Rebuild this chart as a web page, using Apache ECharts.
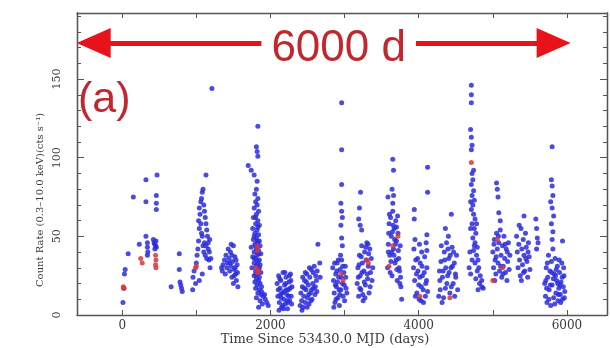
<!DOCTYPE html>
<html>
<head>
<meta charset="utf-8">
<script src="https://cdn.jsdelivr.net/npm/echarts@6/dist/echarts.min.js"></script>
<style>html,body{margin:0;padding:0;background:#fff}#c{width:610px;height:348px}</style>
</head>
<body>
<div id="c"></div>
<script>
// ---- data ----
const xTickLabels = [0, 2000, 4000, 6000];
const xTicks = [0, 1000, 2000, 3000, 4000, 5000, 6000];
const yTickLabels = [0, 50, 100, 150];
const yMinorTicks = [0,10,20,30,40,50,60,70,80,90,100,110,120,130,140,150,160,170,180,190];
const xRange = [-610, 6540];
const yRange = [0, 192];
const arrowSpan = [-385, 5820];   // centres of the two arrow heads
const arrowLevel = 173;
const arrowTextPos = [2920, 169];
const arrowText = '6000 d';
const panelText = '(a)';
const xTitle = 'Time Since 53430.0 MJD (days)';
const yTitle = 'Count Rate (0.3\u201310.0 keV)(cts s\u207B\u00B9)';

const blueEarly = [[10,8],[20,17],[30,26],[40,29],[80,39],[150,75],
 [230,45],[320,86],[320,72],[320,50],[340,46],[340,43],[345,40],[340,38],
 [420,48],[430,46],[440,45],[450,44],[460,43],[440,42],[470,89],[460,76],[460,71],[460,67],[455,47],
 [660,18],[770,39],[770,29],[780,21],[790,19],[800,17],[810,15]];
const blueE = [[950,16],[955,24],[970,28],[990,20],[1000,33],[1010,38],[1020,42],[1030,47],[1040,55],[1030,60],[1050,64],[1040,68],[1060,72],[1070,74],[1080,78],[1090,80],[1100,70],[1110,66],[1120,62],[1130,89],[1130,58],[1140,54],[1150,50],[1160,46],[1080,50],[1090,44],[1100,40],[1120,38],[1140,36],[1160,42],[1180,48],[1170,35],[1185,30],[1210,144],[1060,58],[1070,52],[1110,46],[1130,44],[1175,40],[1195,36],[1080,26],[1040,22]];
const blueF = [[1340,30],[1350,28],[1360,32],[1380,35],[1390,26],[1400,38],[1410,30],[1420,33],[1430,42],[1440,36],[1450,28],[1460,40],[1470,31],[1480,24],[1490,34],[1500,20],[1510,29],[1520,37],[1530,26],[1540,22],[1550,32],[1560,18],[1470,45],[1500,44],[1525,30],[1535,35],[1480,38],[1450,33],[1510,25],[1555,27]];
const blueG = [[1830,120],[1810,107],[1820,104],[1830,101],[1700,95],[1740,92],[1780,89],[1820,85],[1810,80],[1790,77],[1830,74],[1800,72],[1820,70],[1780,68],[1840,66],[1810,64],[1770,62],[1830,60],[1800,58],[1850,57],[1760,55],[1820,54],[1790,52],[1840,51],[1810,49],[1770,48],[1850,47],[1830,46],[1790,45],[1860,44],[1740,43],[1810,42],[1840,41],[1780,40],[1870,39],[1820,38],[1760,37],[1800,36],[1850,35],[1830,34],[1780,33],[1860,32],[1810,31],[1750,30],[1840,29],[1800,28],[1870,27],[1820,26],[1780,25],[1850,24],[1810,23],[1840,22],[1790,21],[1860,20],[1820,19],[1880,18],[1800,17],[1850,16],[1830,14],[1870,13],[1900,12],[1810,11],[1930,10],[1860,9],[1950,8],[1970,6],[1840,5],[1890,7],[1920,13],[1880,15],[1800,62],[1830,56],[1780,50],[1820,47],[1800,44],[1840,39],[1780,36],[1820,32],[1850,30],[1800,26]];
const blueH = [[2090,20],[2100,12],[2110,25],[2120,8],[2130,17],[2140,22],[2150,5],[2160,14],[2170,27],[2180,10],[2190,19],[2200,7],[2210,24],[2220,13],[2230,4],[2240,16],[2250,21],[2260,9],[2270,26],[2280,12],[2290,18],[2105,16],[2125,23],[2145,11],[2165,6],[2185,15],[2205,20],[2225,9],[2245,12],[2265,17],[2285,7],[2115,3],[2175,4],[2235,8],[2255,25],[2195,27],[2135,13],[2215,16],[2275,22]];
const blueI = [[2400,6],[2410,14],[2420,9],[2430,18],[2440,5],[2450,12],[2460,22],[2470,8],[2480,16],[2490,26],[2500,11],[2510,19],[2520,7],[2530,24],[2540,14],[2550,29],[2560,10],[2570,20],[2580,17],[2590,31],[2600,13],[2610,25],[2620,22],[2640,45],[2630,28],[2425,3],[2455,17],[2485,21],[2515,13],[2545,9],[2575,27],[2605,18],[2625,15],[2665,33],[2670,24],[2435,24],[2495,5],[2525,30],[2555,16],[2470,27]];
const blueJ = [[2960,135],[2960,105],[2960,83],[2950,71],[2960,66],[2970,62],[2950,57],[2960,49],[2970,44],
 [2840,30],[2850,22],[2860,14],[2870,8],[2880,26],[2890,18],[2900,33],[2910,11],[2920,24],[2930,6],[2940,29],[2950,16],[2960,35],[2970,20],[2980,12],[2990,27],[3000,9],[3010,31],[3020,17],[3030,14],[2855,5],[2875,19],[2895,28],[2915,35],[2935,13],[2955,24],[2975,31],[2995,19],[3015,24],[2865,33],[2885,10],[2905,21],[2925,16],[2945,38]];
const blueK = [[3215,78],[3200,68],[3190,61],[3210,57],[3230,54],
 [3170,20],[3180,30],[3190,12],[3200,38],[3210,25],[3220,16],[3230,44],[3240,33],[3250,9],[3260,28],[3270,40],[3280,19],[3290,35],[3300,46],[3310,23],[3320,31],[3330,14],[3340,42],[3350,27],[3360,36],[3370,22],[3380,30],[3185,24],[3205,17],[3225,37],[3245,13],[3265,21],[3285,43],[3305,26],[3325,39],[3345,18],[3195,32],[3235,27],[3275,11],[3315,45]];
const blueL = [[3650,99],[3660,92],[3640,80],[3660,76],[3650,71],[3585,75],
 [3580,30],[3590,45],[3600,58],[3610,38],[3620,62],[3630,50],[3640,25],[3650,66],[3660,42],[3670,55],[3680,33],[3690,60],[3700,47],[3710,22],[3720,52],[3730,36],[3740,28],[3750,44],[3760,18],[3770,10],[3595,52],[3615,27],[3635,40],[3655,57],[3675,48],[3695,35],[3715,63],[3735,30],[3755,24],[3605,64],[3625,34],[3645,53],[3665,38],[3685,45],[3705,29],[3725,41],[3745,20],[3590,40],[3700,56]];
const blueM = [[3940,67],[3940,61],[4120,94],[4120,78],[4110,51],[4100,46],[4110,41],
 [3930,30],[3945,22],[3960,35],[3975,14],[3990,28],[4005,10],[4020,33],[4035,18],[4050,25],[4065,8],[4080,37],[4095,20],[4110,30],[4120,15],[3955,12],[3970,26],[3985,36],[4000,19],[4015,24],[4030,9],[4045,31],[4060,16],[4075,27],[4090,12],[4105,22],[3935,42],[3950,48],[4010,45],[4040,40]];
const blueN = [[4440,64],[4360,55],[4400,50],
 [4270,12],[4285,22],[4300,34],[4315,8],[4330,28],[4345,40],[4360,17],[4375,46],[4390,25],[4405,36],[4420,14],[4435,30],[4450,43],[4465,20],[4480,33],[4495,26],[4510,38],[4525,16],[4290,16],[4305,44],[4320,24],[4335,11],[4350,35],[4365,30],[4380,20],[4395,42],[4410,27],[4425,38],[4440,18],[4455,31],[4470,40],[4485,12],[4500,24],[4280,28]];
const blueO = [[4710,146],[4710,140],[4710,135],[4700,118],[4710,113],[4720,108],[4710,105],
 [4720,90],[4730,86],[4710,83],[4740,79],[4720,76],[4750,73],[4730,70],[4710,67],[4740,64],[4760,61],[4720,58],[4750,55],[4770,52],[4730,49],[4760,46],[4790,43],[4740,41],[4780,38],[4800,35],[4760,33],[4810,30],[4790,28],[4830,25],[4770,23],[4820,20],[4850,18],[4800,16],[4700,26],[4690,40],[4700,55],[4680,30],[4720,35],[4850,22],[4870,17],[4750,44],[4780,58],[4700,72],[4740,92]];
const blueP = [[5050,84],[5060,80],[5070,75],[5080,65],[5100,60],
 [5000,40],[5010,30],[5020,48],[5030,35],[5040,26],[5050,52],[5060,42],[5070,33],[5080,46],[5090,28],[5100,54],[5110,38],[5120,24],[5130,44],[5140,31],[5150,50],[5160,36],[5170,27],[5180,42],[5190,22],[5200,34],[5210,46],[5220,29],[5230,38],[5015,45],[5045,37],[5075,50],[5105,31],[5135,26],[5165,45],[5195,40],[5025,22]];
const blueQ = [[5420,63],
 [5320,50],[5330,40],[5340,30],[5350,45],[5360,35],[5370,25],[5380,55],[5390,42],[5400,32],[5410,48],[5420,38],[5430,28],[5440,52],[5450,43],[5460,34],[5470,24],[5480,46],[5490,37],[5500,29],[5355,57],[5385,22],[5415,27],[5445,36],[5475,40],
 [5580,61],[5590,55],[5600,49],[5590,42],[5610,46]];
const blueS = [[5800,107],[5790,86],[5800,82],[5810,76],[5780,72],[5800,68],[5820,63],[5790,58],[5810,53],[5800,48],[5940,47],
 [5700,20],[5710,12],[5720,30],[5730,8],[5740,24],[5750,38],[5760,16],[5770,28],[5780,6],[5790,34],[5800,19],[5810,42],[5820,11],[5830,26],[5840,36],[5850,14],[5860,22],[5870,31],[5880,9],[5890,17],[5900,27],[5910,13],[5920,21],[5930,33],[5940,10],[5950,18],[5960,25],[5970,15],[5715,22],[5735,33],[5755,10],[5775,19],[5795,27],[5815,23],[5835,7],[5855,29],[5875,20],[5895,35],[5915,8],[5935,24],[5955,30],[5965,11],[5725,17],[5845,25],[5905,19],[5885,13]];
const redPoints = [[15,18],[25,17],[250,36],[270,33],[450,38],[455,35],[450,32],[455,30],[990,30],[1000,31],
 [1820,44],[1830,41],[1810,30],[1840,28],[1820,27],[2950,26],[2980,22],[3320,33],[3300,35],
 [3720,50],[3600,31],[3650,44],[4015,12],[4420,11],[4710,97],[5000,22],[5130,30],[5060,48]];

const bluePoints = [].concat(blueEarly, blueE, blueF, blueG, blueH, blueI, blueJ, blueK, blueL, blueM, blueN, blueO, blueP, blueQ, blueS);

// ---- chart ----
const chart = echarts.init(document.getElementById('c'), null, {renderer: 'canvas'});
const serif = 'DejaVu Serif';
const lineCol = '#555';
function xAx(pos, labels, len) {
  return {type: 'value', position: pos, min: xRange[0], max: xRange[1],
    axisLine: {show: true, onZero: false, lineStyle: {color: lineCol, width: 1.3}},
    axisTick: {show: true, inside: true, length: len, customValues: xTicks, lineStyle: {color: lineCol}},
    axisLabel: labels ? {show: true, customValues: xTickLabels, formatter: v => String(v), fontFamily: serif, fontSize: 12, color: '#3a3a3a', margin: 5} : {show: false},
    splitLine: {show: false}};
}
function yAx(pos, ticks, len, labels) {
  return {type: 'value', position: pos, min: yRange[0], max: yRange[1],
    axisLine: {show: true, onZero: false, lineStyle: {color: lineCol, width: 1.3}},
    axisTick: {show: true, inside: true, length: len, customValues: ticks, lineStyle: {color: lineCol}},
    axisLabel: labels ? {show: true, customValues: yTickLabels, formatter: v => String(v), rotate: 90, fontFamily: serif, fontSize: 11, color: '#3a3a3a', margin: 14} : {show: false},
    splitLine: {show: false}};
}
chart.setOption({
  animation: false,
  backgroundColor: '#fff',
  grid: {left: 77, right: 3, top: 13, bottom: 33},
  xAxis: [xAx('bottom', true, 5), xAx('top', false, 5)],
  yAxis: [yAx('left', yTickLabels, 7, true), yAx('left', yMinorTicks, 4, false), yAx('right', yTickLabels, 7, false), yAx('right', yMinorTicks, 4, false)],
  graphic: [
    {type: 'text', left: 78, top: 79, z: 100, style: {text: panelText, font: '43px "Liberation Sans"', fill: '#c1272d'}},
    {type: 'text', x: 40, y: 200, rotation: Math.PI / 2, style: {text: yTitle, font: '10px "DejaVu Serif"', fill: '#3a3a3a', align: 'center', verticalAlign: 'middle'}},
    {type: 'text', x: 325, y: 340, style: {text: xTitle, font: '13px "DejaVu Serif"', fill: '#3a3a3a', align: 'center', verticalAlign: 'middle'}}
  ],
  series: [
    {type: 'scatter', data: bluePoints, symbolSize: 5, itemStyle: {color: '#2b2bdc', opacity: 0.85}, silent: true,
     markLine: {silent: true, symbol: ['triangle', 'triangle'], symbolSize: [30, 34],
       lineStyle: {color: '#e8121b', width: 5, type: 'solid', opacity: 1},
       label: {show: false},
       data: [[{coord: [arrowSpan[0], arrowLevel]}, {coord: [arrowSpan[1], arrowLevel]}]]}},
    {type: 'scatter', data: redPoints, symbolSize: 5, itemStyle: {color: '#d8383a', opacity: 0.85}, silent: true},
    {type: 'scatter', data: [arrowTextPos], symbolSize: 2, itemStyle: {color: 'rgba(255,255,255,0)'}, silent: true, z: 10,
     label: {show: true, position: 'inside', formatter: arrowText, fontFamily: 'Liberation Sans', fontSize: 44, color: '#c1272d', backgroundColor: '#fff', padding: [0, 10], opacity: 1}}
  ]
});
</script>
</body>
</html>
